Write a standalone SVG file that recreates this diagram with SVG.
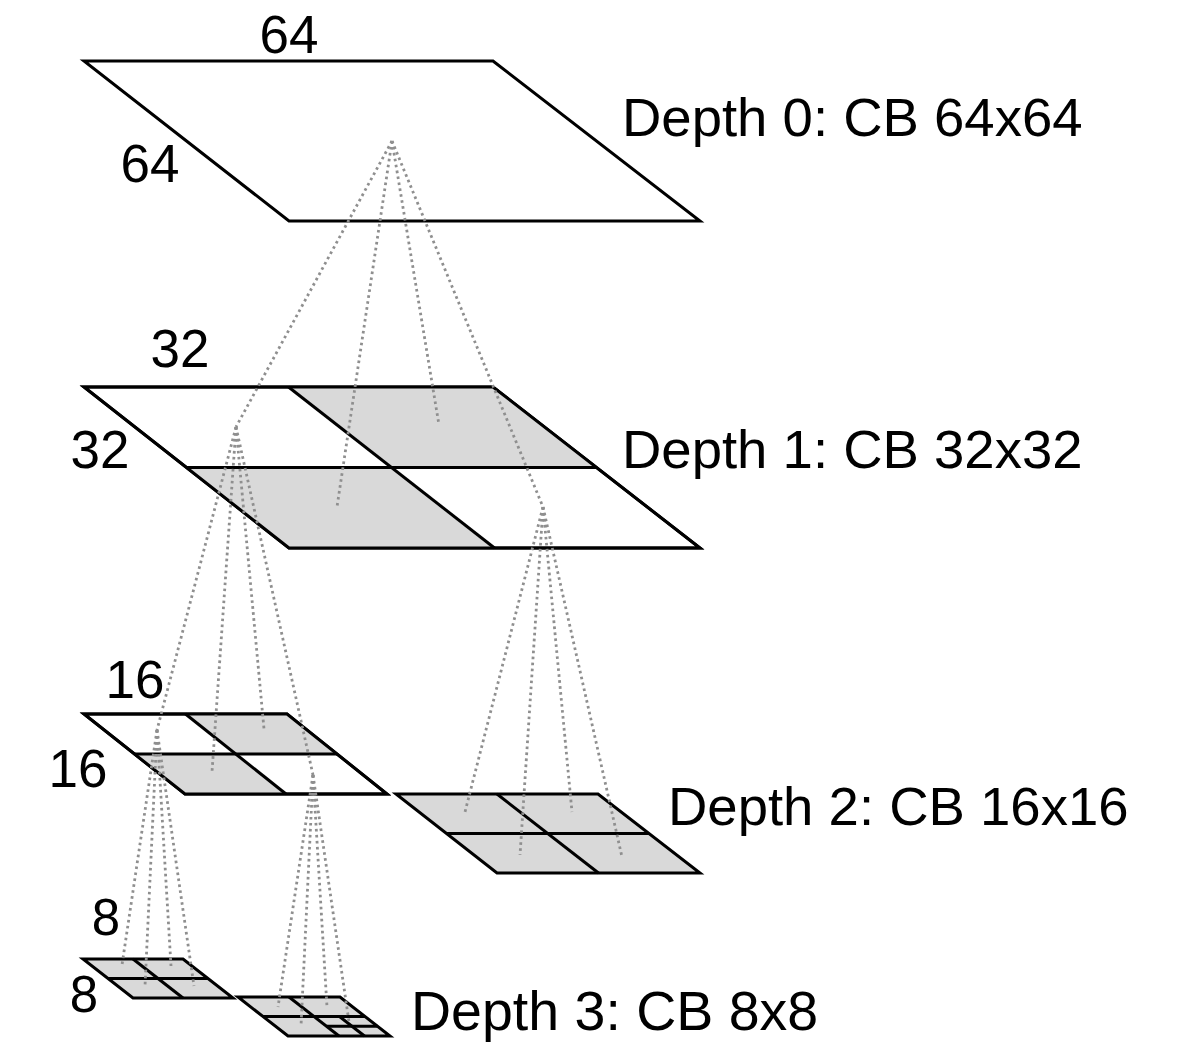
<svg xmlns="http://www.w3.org/2000/svg" width="1197" height="1052" viewBox="0 0 1197 1052">
  <style>
    .blk { fill: #ffffff; stroke: #000000; stroke-width: 3; stroke-linejoin: miter; }
    .sh { fill: #d9d9d9; stroke: none; }
    .ln { fill: none; stroke: #000000; stroke-width: 3; }
    .out { fill: none; stroke: #000000; stroke-width: 3; stroke-linejoin: miter; }
    .dot { fill: none; stroke: #8f8f8f; stroke-width: 2.8; stroke-dasharray: 2.6 3.4; }
    .lbl { font-family: "Liberation Sans", Arial, sans-serif; font-size: 54.5px; fill: #000000; }
    .num { font-family: "Liberation Sans", Arial, sans-serif; font-size: 53px; fill: #000000; text-anchor: middle; }
    .num8 { font-family: "Liberation Sans", Arial, sans-serif; font-size: 51px; fill: #000000; text-anchor: middle; }
  </style>

  <rect x="0" y="0" width="1197" height="1052" fill="#ffffff"/>

  <!-- Depth 0: one 64x64 block -->
  <g id="depth0">
    <polygon class="blk" points="84,61 493,61 700,221 289,221"/>
    <text class="num" x="289" y="53">64</text>
    <text class="num" x="150" y="182">64</text>
    <text class="lbl" x="622" y="136">Depth 0: CB 64x64</text>
  </g>

  <!-- Depth 1: four 32x32 blocks, two of them split further -->
  <g id="depth1">
    <polygon class="blk" points="84,387 493,387 700,548 289,548"/>
    <polygon class="sh" points="288.5,387 493,387 596.5,467.5 391.5,467.5"/>
    <polygon class="sh" points="186,467.5 391.5,467.5 494.5,548 289,548"/>
    <line class="ln" x1="186" y1="467.5" x2="596.5" y2="467.5"/>
    <line class="ln" x1="288.5" y1="387" x2="494.5" y2="548"/>
    <polygon class="out" points="84,387 493,387 700,548 289,548"/>
    <text class="num" x="180" y="367">32</text>
    <text class="num" x="100" y="468">32</text>
    <text class="lbl" x="622" y="468">Depth 1: CB 32x32</text>
  </g>

  <!-- Depth 2: 16x16 blocks under the top-left 32x32 -->
  <g id="depth2-left">
    <polygon class="blk" points="84,714 287,714 387,794 185,794"/>
    <polygon class="sh" points="185.5,714 287,714 337,754 236,754"/>
    <polygon class="sh" points="134.5,754 236,754 286,794 185,794"/>
    <line class="ln" x1="134.5" y1="754" x2="337" y2="754"/>
    <line class="ln" x1="185.5" y1="714" x2="286" y2="794"/>
    <polygon class="out" points="84,714 287,714 387,794 185,794"/>
    <text class="num" x="135" y="698">16</text>
    <text class="num" x="78" y="787">16</text>
  </g>

  <!-- Depth 2: 16x16 blocks under the bottom-right 32x32 -->
  <g id="depth2-right">
    <polygon class="blk sh" points="396,794 598,794 700,873 497,873"/>
    <line class="ln" x1="446.5" y1="833.5" x2="649" y2="833.5"/>
    <line class="ln" x1="497" y1="794" x2="598.5" y2="873"/>
    <polygon class="out" points="396,794 598,794 700,873 497,873"/>
    <text class="lbl" x="668" y="825">Depth 2: CB 16x16</text>
  </g>

  <!-- Depth 3: 8x8 blocks -->
  <g id="depth3-left">
    <polygon class="sh" points="83,959 183,959 233,998 133,998"/>
    <line class="ln" x1="108" y1="978.5" x2="208" y2="978.5"/>
    <line class="ln" x1="133" y1="959" x2="183" y2="998"/>
    <polygon class="out" points="83,959 183,959 233,998 133,998"/>
    <text class="num8" x="106" y="935">8</text>
    <text class="num8" x="84" y="1012">8</text>
  </g>

  <g id="depth3-right">
    <polygon class="sh" points="238,997 340,997 390,1036 288,1036"/>
    <line class="ln" x1="263" y1="1016.5" x2="365" y2="1016.5"/>
    <line class="ln" x1="289" y1="997" x2="339" y2="1036"/>
    <line class="ln" x1="326.5" y1="1026.25" x2="377.5" y2="1026.25"/>
    <line class="ln" x1="339.5" y1="1016.5" x2="364.5" y2="1036"/>
    <polygon class="out" points="238,997 340,997 390,1036 288,1036"/>
    <text class="lbl" x="411" y="1030" style="font-size:55.5px">Depth 3: CB 8x8</text>
  </g>

  <!-- Quadtree split links, drawn over the blocks -->
  <g id="connectors">
    <path class="dot" d="M392,141 L236,427"/>
    <path class="dot" d="M392,141 L337,507"/>
    <path class="dot" d="M392,141 L439,425"/>
    <path class="dot" d="M392,141 L543,507"/>

    <path class="dot" d="M236,427 L157,730"/>
    <path class="dot" d="M236,427 L212,772"/>
    <path class="dot" d="M236,427 L264,729"/>
    <path class="dot" d="M236,427 L313,775"/>

    <path class="dot" d="M543,507 L465,812"/>
    <path class="dot" d="M543,507 L520,855"/>
    <path class="dot" d="M543,507 L572,812"/>
    <path class="dot" d="M543,507 L622,857"/>

    <path class="dot" d="M157,730 L122,965"/>
    <path class="dot" d="M157,730 L145,986"/>
    <path class="dot" d="M157,730 L171,966"/>
    <path class="dot" d="M157,730 L194,986"/>

    <path class="dot" d="M313,775 L278,1007"/>
    <path class="dot" d="M313,775 L301,1026"/>
    <path class="dot" d="M313,775 L327,1007"/>
    <path class="dot" d="M313,775 L349,1022"/>
  </g>
</svg>
